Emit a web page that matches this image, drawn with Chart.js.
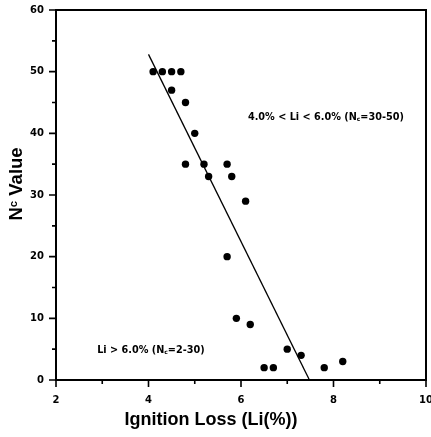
<!DOCTYPE html>
<html>
<head>
<meta charset="utf-8">
<script src="https://cdn.jsdelivr.net/npm/chart.js@4.4.1/dist/chart.umd.min.js"></script>
<style>
  html, body { margin: 0; padding: 0; background: #fff; }
  canvas { display: block; }
</style>
</head>
<body>
<canvas id="chart" width="431" height="437"></canvas>
<script>
// Measured samples: ignition loss (%) against Nc value
const ignitionLoss = [4.1, 4.3, 4.5, 4.7, 4.5, 4.8, 5.0, 4.8, 5.2, 5.3, 5.7, 5.8, 6.1, 5.7, 5.9, 6.2, 7.0, 7.3, 6.5, 6.7, 7.8, 8.2];
const ncValue      = [50,  50,  50,  50,  47,  45,  40,  35,  35,  33,  35,  33,  29,  20,  10,  9,   5,   4,   2,   2,   2,   3];

// Fitted trend line end points
const fitX = [4.0, 7.48];
const fitY = [52.8, 0];

// Axis ticks
const xTicks = [2, 4, 6, 8, 10];
const xMinorTicks = [3, 5, 7, 9];
const yTicks = [0, 10, 20, 30, 40, 50, 60];
const yMinorTicks = [5, 15, 25, 35, 45, 55];

const FAMILY = '"DejaVu Sans", "Liberation Sans", Arial, sans-serif';
const TITLE_FAMILY = '"Liberation Sans", Arial, sans-serif';
const tickFont = { family: 'DejaVu Sans', size: 10, weight: 'bold' };

// Draw a run of text pieces, where pieces flagged small are drawn reduced and shifted
function drawRich(ctx, parts, x, y, size, family) {
  let cx = x;
  for (const p of parts) {
    const s = p.small ? size * 0.62 : size;
    ctx.font = 'bold ' + s + 'px ' + family;
    ctx.fillText(p.t, cx, y + (p.shift || 0));
    cx += ctx.measureText(p.t).width;
  }
  return cx - x;
}
function richWidth(ctx, parts, size, family) {
  let w = 0;
  for (const p of parts) {
    const s = p.small ? size * 0.62 : size;
    ctx.font = 'bold ' + s + 'px ' + family;
    w += ctx.measureText(p.t).width;
  }
  return w;
}

const framePlugin = {
  id: 'frame',
  afterDraw(chart) {
    const { ctx, chartArea: a, scales: { x, y } } = chart;
    ctx.save();
    ctx.strokeStyle = '#000';
    ctx.fillStyle = '#000';

    // box around plot
    ctx.lineWidth = 2;
    ctx.strokeRect(a.left, a.top, a.right - a.left, a.bottom - a.top);

    // tick marks
    ctx.lineWidth = 1.6;
    ctx.beginPath();
    for (const v of xTicks) {
      const px = x.getPixelForValue(v);
      ctx.moveTo(px, a.bottom); ctx.lineTo(px, a.bottom + 7);
    }
    for (const v of xMinorTicks) {
      const px = x.getPixelForValue(v);
      ctx.moveTo(px, a.bottom); ctx.lineTo(px, a.bottom + 4);
    }
    for (const v of yTicks) {
      const py = y.getPixelForValue(v);
      ctx.moveTo(a.left, py); ctx.lineTo(a.left - 7, py);
    }
    for (const v of yMinorTicks) {
      const py = y.getPixelForValue(v);
      ctx.moveTo(a.left, py); ctx.lineTo(a.left - 4, py);
    }
    ctx.stroke();

    // annotations inside the plot
    ctx.textBaseline = 'alphabetic';
    ctx.textAlign = 'left';
    const size = 9.7;
    drawRich(ctx, [
      { t: '4.0% < Li < 6.0% (N' },
      { t: 'c', small: true, shift: 1 },
      { t: '=30-50)' }
    ], x.getPixelForValue(6.15), y.getPixelForValue(42.1), size, FAMILY);
    drawRich(ctx, [
      { t: 'Li > 6.0% (N' },
      { t: 'c', small: true, shift: 1 },
      { t: '=2-30)' }
    ], x.getPixelForValue(2.89), y.getPixelForValue(4.4), size, FAMILY);

    // x axis title
    ctx.font = 'bold 18px ' + TITLE_FAMILY;
    ctx.textAlign = 'center';
    ctx.fillText('Ignition Loss (Li(%))', 211, 425);

    // y axis title, rotated
    ctx.textAlign = 'left';
    const ySize = 18.5;
    const yParts = [{ t: 'N' }, { t: 'c', small: true, shift: -4.5 }, { t: ' Value' }];
    ctx.translate(21.5, 184);
    ctx.rotate(-Math.PI / 2);
    const w = richWidth(ctx, yParts, ySize, TITLE_FAMILY);
    drawRich(ctx, yParts, -w / 2, 0, ySize, TITLE_FAMILY);

    ctx.restore();
  }
};

new Chart(document.getElementById('chart'), {
  type: 'scatter',
  data: {
    datasets: [
      {
        type: 'line',
        data: fitX.map((v, i) => ({ x: v, y: fitY[i] })),
        borderColor: '#000',
        borderWidth: 1.3,
        pointRadius: 0,
        fill: false,
        tension: 0
      },
      {
        data: ignitionLoss.map((v, i) => ({ x: v, y: ncValue[i] })),
        backgroundColor: '#000',
        borderWidth: 0,
        pointRadius: 3.7
      }
    ]
  },
  options: {
    responsive: false,
    animation: false,
    devicePixelRatio: 1,
    layout: { padding: { top: 10, right: 5, left: 0, bottom: 0 } },
    plugins: { legend: { display: false }, tooltip: { enabled: false } },
    scales: {
      x: {
        type: 'linear',
        min: 2, max: 10,
        afterBuildTicks(s) { s.ticks = xTicks.map(v => ({ value: v })); },
        afterFit(s) { s.height = 57; s.paddingLeft = 0; s.paddingRight = 0; },
        grid: { display: false, drawTicks: false },
        border: { display: false },
        ticks: { font: tickFont, color: '#000', padding: 14, maxRotation: 0, autoSkip: false }
      },
      y: {
        type: 'linear',
        min: 0, max: 60,
        afterBuildTicks(s) { s.ticks = yTicks.map(v => ({ value: v })); },
        afterFit(s) { s.width = 56; s.paddingTop = 0; s.paddingBottom = 0; },
        grid: { display: false, drawTicks: false },
        border: { display: false },
        ticks: { font: tickFont, color: '#000', padding: 12, autoSkip: false }
      }
    }
  },
  plugins: [framePlugin]
});
</script>
</body>
</html>
